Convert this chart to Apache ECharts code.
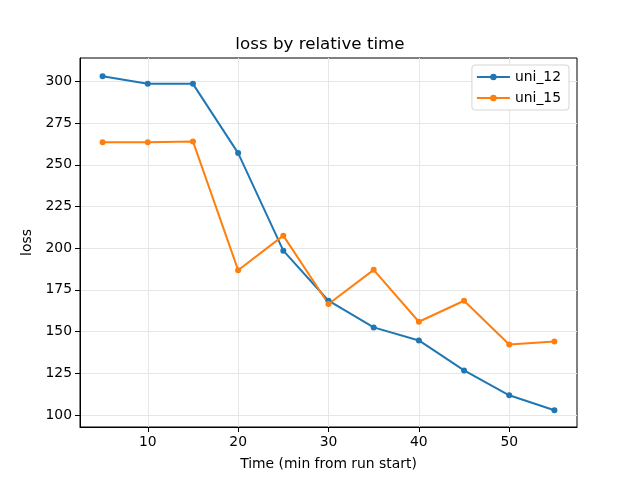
<!DOCTYPE html>
<html>
<head>
<meta charset="utf-8">
<script src="https://cdn.jsdelivr.net/npm/echarts@6/dist/echarts.min.js"></script>
<style>html,body{margin:0;padding:0;background:#fff}#c{width:640px;height:480px}</style>
</head>
<body>
<div id="c"></div>
<script>
var times = [5, 10, 15, 20, 25, 30, 35, 40, 45, 50, 55];
var uni12 = [303, 298.5, 298.5, 257, 198.5, 168.5, 152.5, 144.7, 126.7, 111.8, 102.8];
var uni15 = [263.5, 263.5, 264, 186.8, 207.5, 166.5, 187, 155.9, 168.5, 142.3, 144.1];
var xTicks = [10, 20, 30, 40, 50];
var yTicks = [100, 125, 150, 175, 200, 225, 250, 275, 300];
var seriesNames = ['uni_12', 'uni_15'];

var font = 'DejaVu Sans';
function pairs(xs, ys) { return xs.map(function (x, i) { return [x, ys[i]]; }); }

var chart = echarts.init(document.getElementById('c'), null, { renderer: 'canvas' });
chart.setOption({
  animation: false,
  backgroundColor: '#fff',
  title: {
    text: 'loss by relative time', left: 'center', top: 31,
    textStyle: { fontFamily: font, fontSize: 16.7, fontWeight: 'normal', color: '#000' }
  },
  legend: {
    orient: 'vertical', right: 71, top: 65,
    data: seriesNames,
    backgroundColor: '#fff', borderColor: '#d5d5d5', borderWidth: 1, borderRadius: 3,
    padding: [5, 8, 5, 4], itemGap: 7, itemWidth: 33, itemHeight: 8,
    textStyle: { fontFamily: font, fontSize: 13.9, color: '#000' }
  },
  grid: { left: 80, right: 63, top: 58, bottom: 53, show: true, borderColor: '#000', borderWidth: 1, backgroundColor: 'transparent' },
  xAxis: {
    type: 'value', min: 2.5, max: 57.5,
    name: 'Time (min from run start)', nameLocation: 'middle', nameGap: 30,
    nameTextStyle: { fontFamily: font, fontSize: 13.9, color: '#000' },
    axisLine: { show: true, lineStyle: { color: '#000', width: 1 } },
    axisTick: { show: true, customValues: xTicks, length: 5, lineStyle: { color: '#000' } },
    axisLabel: { customValues: xTicks, fontFamily: font, fontSize: 13.9, color: '#000', margin: 8 },
    splitLine: { show: true, lineStyle: { color: '#e6e6e6', width: 1 } }
  },
  yAxis: {
    type: 'value', min: 92.8, max: 314,
    name: 'loss', nameLocation: 'middle', nameGap: 41, nameRotate: 90,
    nameTextStyle: { fontFamily: font, fontSize: 13.9, color: '#000' },
    axisLine: { show: true, lineStyle: { color: '#000', width: 1 } },
    axisTick: { show: true, customValues: yTicks, length: 5, lineStyle: { color: '#000' } },
    axisLabel: { customValues: yTicks, fontFamily: font, fontSize: 13.9, color: '#000', margin: 8 },
    splitLine: { show: true, lineStyle: { color: '#e6e6e6', width: 1 } }
  },
  series: [
    {
      name: seriesNames[0], type: 'line', data: pairs(times, uni12),
      symbol: 'circle', symbolSize: 6, showSymbol: true,
      lineStyle: { color: '#1f77b4', width: 2 }, itemStyle: { color: '#1f77b4' }
    },
    {
      name: seriesNames[1], type: 'line', data: pairs(times, uni15),
      symbol: 'circle', symbolSize: 6, showSymbol: true,
      lineStyle: { color: '#ff7f0e', width: 2 }, itemStyle: { color: '#ff7f0e' }
    }
  ]
});
</script>
</body>
</html>
